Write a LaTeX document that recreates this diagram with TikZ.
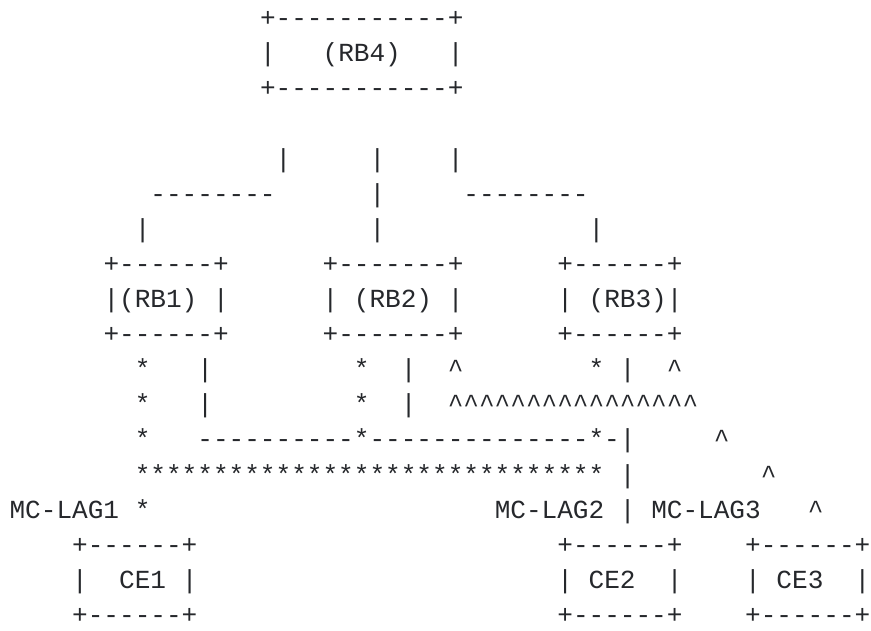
\documentclass[tikz,border=0pt]{standalone}
\usepackage{fontspec}
\setmonofont{Liberation Mono}
\definecolor{inkcol}{RGB}{38,40,44}
\newcommand\ca{\textasciicircum}
\newcommand\asc[3]{\node[asciitxt] (r#1c#2) at ({9.6+15.65*#2},{-26.7-35.1*#1}) {#3};}
\begin{document}
\begin{tikzpicture}[x=1pt,y=1pt,
  asciitxt/.style={anchor=base west,inner sep=0pt,outer sep=0pt,text=inkcol,
    font=\ttfamily\fontsize{26.08}{35.1}\selectfont}]
\useasboundingbox[fill=white] (0,0) rectangle (871,-631);
% RB4
\asc{0}{16}{+-----------+}
\asc{1}{16}{|}\asc{1}{20}{(RB4)}\asc{1}{28}{|}
\asc{2}{16}{+-----------+}
% links from RB4
\asc{4}{17}{|}\asc{4}{23}{|}\asc{4}{28}{|}
\asc{5}{9}{--------}\asc{5}{23}{|}\asc{5}{29}{--------}
\asc{6}{8}{|}\asc{6}{23}{|}\asc{6}{37}{|}
% RB1 RB2 RB3
\asc{7}{6}{+------+}\asc{7}{20}{+-------+}\asc{7}{35}{+------+}
\asc{8}{6}{|(RB1)}\asc{8}{13}{|}\asc{8}{20}{|}\asc{8}{22}{(RB2)}\asc{8}{28}{|}\asc{8}{35}{|}\asc{8}{37}{(RB3)|}
\asc{9}{6}{+------+}\asc{9}{20}{+-------+}\asc{9}{35}{+------+}
% links
\asc{10}{8}{*}\asc{10}{12}{|}\asc{10}{22}{*}\asc{10}{25}{|}\asc{10}{28}{\ca}\asc{10}{37}{*}\asc{10}{39}{|}\asc{10}{42}{\ca}
\asc{11}{8}{*}\asc{11}{12}{|}\asc{11}{22}{*}\asc{11}{25}{|}\asc{11}{28}{\ca\ca\ca\ca\ca\ca\ca\ca\ca\ca\ca\ca\ca\ca\ca\ca}
\asc{12}{8}{*}\asc{12}{12}{----------*--------------*-|}\asc{12}{45}{\ca}
\asc{13}{8}{******************************}\asc{13}{39}{|}\asc{13}{48}{\ca}
\asc{14}{0}{MC-LAG1}\asc{14}{8}{*}\asc{14}{31}{MC-LAG2}\asc{14}{39}{|}\asc{14}{41}{MC-LAG3}\asc{14}{51}{\ca}
% CE boxes
\asc{15}{4}{+------+}\asc{15}{35}{+------+}\asc{15}{47}{+------+}
\asc{16}{4}{|}\asc{16}{7}{CE1}\asc{16}{11}{|}\asc{16}{35}{|}\asc{16}{37}{CE2}\asc{16}{42}{|}\asc{16}{47}{|}\asc{16}{49}{CE3}\asc{16}{54}{|}
\asc{17}{4}{+------+}\asc{17}{35}{+------+}\asc{17}{47}{+------+}
\end{tikzpicture}
\end{document}
